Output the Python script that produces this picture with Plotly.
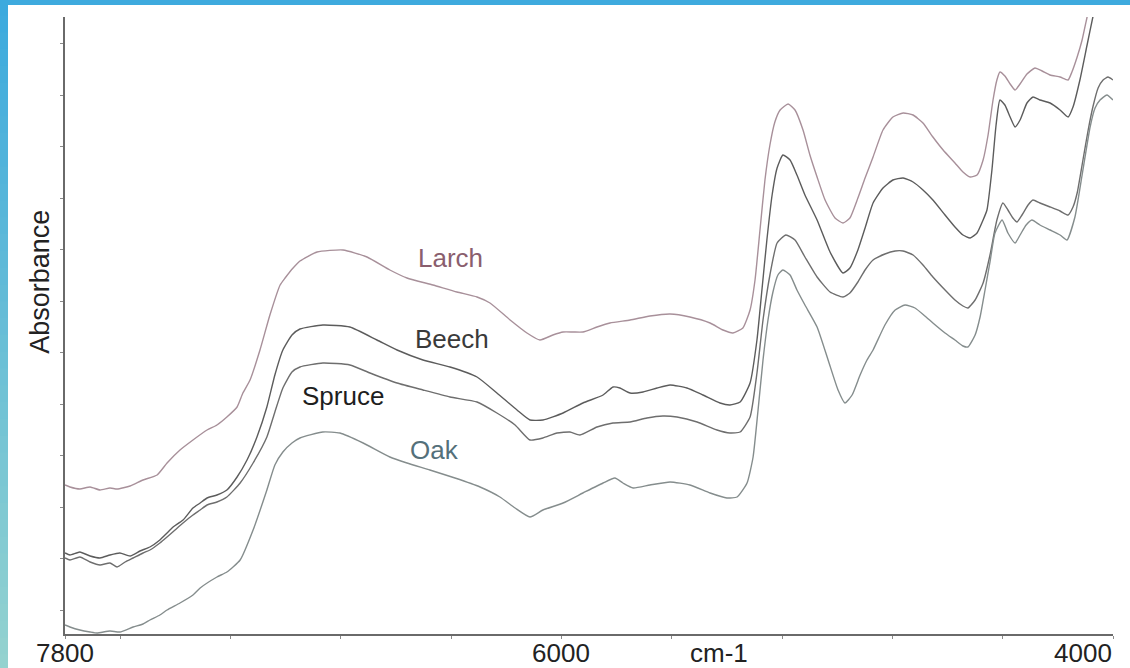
import plotly.graph_objects as go

# NIR absorbance spectra of four wood species (wavenumber in cm-1, absorbance in a.u.)
larch_wn = [7800, 7782, 7746, 7709, 7673, 7637, 7611, 7564, 7517, 7466, 7430, 7383, 7336, 7285,
            7249, 7213, 7176, 7155, 7129, 7093, 7057, 7020, 7002, 6973, 6948, 6886, 6792, 6705,
            6622, 6560, 6466, 6379, 6306, 6259, 6186, 6125, 6078, 6031, 5994, 5958, 5922, 5871,
            5824, 5751, 5679, 5606, 5534, 5461, 5414, 5378, 5342, 5316, 5298, 5280, 5262, 5244,
            5226, 5207, 5178, 5153, 5124, 5099, 5073, 5044, 5008, 4979, 4954, 4925, 4899, 4870,
            4834, 4798, 4761, 4725, 4689, 4653, 4616, 4573, 4544, 4518, 4493, 4471, 4453, 4435,
            4421, 4410, 4392, 4373, 4355, 4337, 4312, 4283, 4257, 4228, 4192, 4163, 4149, 4130,
            4112, 4094, 4076, 4058]
larch_abs = [0.349, 0.347, 0.345, 0.347, 0.344, 0.346, 0.345, 0.348, 0.354, 0.359, 0.371, 0.384,
             0.394, 0.404, 0.409, 0.417, 0.427, 0.441, 0.454, 0.484, 0.519, 0.549, 0.556, 0.566,
             0.573, 0.582, 0.584, 0.577, 0.564, 0.556, 0.549, 0.542, 0.537, 0.531, 0.514, 0.501,
             0.494, 0.499, 0.502, 0.502, 0.502, 0.507, 0.511, 0.514, 0.518, 0.520, 0.517, 0.511,
             0.504, 0.501, 0.506, 0.524, 0.554, 0.604, 0.654, 0.689, 0.712, 0.724, 0.730, 0.724,
             0.704, 0.679, 0.657, 0.634, 0.616, 0.611, 0.616, 0.636, 0.656, 0.677, 0.704, 0.717,
             0.721, 0.719, 0.711, 0.697, 0.684, 0.671, 0.662, 0.657, 0.659, 0.674, 0.699, 0.734,
             0.754, 0.762, 0.758, 0.750, 0.744, 0.750, 0.760, 0.766, 0.763, 0.759, 0.757, 0.754,
             0.762, 0.777, 0.794, 0.817, 0.839, 0.859]

beech_wn = [7800, 7782, 7746, 7709, 7673, 7637, 7601, 7564, 7528, 7492, 7456, 7430, 7408, 7372,
            7336, 7310, 7285, 7249, 7213, 7176, 7140, 7104, 7068, 7039, 7010, 6977, 6948, 6865,
            6767, 6669, 6596, 6502, 6404, 6306, 6234, 6161, 6114, 6067, 5994, 5922, 5849, 5813,
            5788, 5751, 5704, 5653, 5606, 5545, 5487, 5425, 5389, 5352, 5316, 5291, 5273, 5255,
            5236, 5218, 5197, 5171, 5146, 5117, 5073, 5026, 4979, 4954, 4925, 4899, 4870, 4834,
            4798, 4761, 4725, 4689, 4653, 4609, 4573, 4544, 4518, 4493, 4471, 4457, 4439, 4424,
            4410, 4392, 4373, 4355, 4337, 4312, 4290, 4265, 4228, 4192, 4163, 4145, 4120, 4094,
            4073, 4054]
beech_abs = [0.281, 0.279, 0.282, 0.278, 0.276, 0.279, 0.281, 0.278, 0.283, 0.287, 0.294, 0.301,
             0.307, 0.314, 0.326, 0.331, 0.336, 0.339, 0.344, 0.357, 0.374, 0.397, 0.427, 0.459,
             0.484, 0.499, 0.505, 0.509, 0.507, 0.494, 0.484, 0.474, 0.467, 0.457, 0.441, 0.424,
             0.414, 0.414, 0.421, 0.431, 0.439, 0.447, 0.446, 0.441, 0.442, 0.446, 0.449, 0.446,
             0.439, 0.431, 0.429, 0.432, 0.451, 0.494, 0.544, 0.594, 0.639, 0.666, 0.679, 0.674,
             0.659, 0.639, 0.614, 0.582, 0.561, 0.566, 0.584, 0.606, 0.631, 0.646, 0.654, 0.656,
             0.652, 0.644, 0.634, 0.619, 0.607, 0.599, 0.596, 0.601, 0.614, 0.624, 0.664, 0.709,
             0.734, 0.729, 0.717, 0.707, 0.714, 0.731, 0.737, 0.734, 0.731, 0.724, 0.717, 0.727,
             0.754, 0.789, 0.817, 0.839]

spruce_wn = [7800, 7782, 7746, 7709, 7673, 7637, 7611, 7582, 7553, 7517, 7492, 7456, 7430, 7401,
             7372, 7336, 7310, 7285, 7249, 7213, 7165, 7118, 7068, 7039, 7010, 6977, 6948, 6865,
             6767, 6694, 6596, 6502, 6404, 6306, 6234, 6168, 6114, 6067, 6016, 5969, 5933, 5871,
             5813, 5751, 5690, 5632, 5581, 5508, 5436, 5389, 5352, 5316, 5291, 5269, 5244, 5218,
             5186, 5153, 5117, 5073, 5026, 4979, 4954, 4925, 4899, 4870, 4827, 4790, 4761, 4725,
             4689, 4653, 4609, 4573, 4544, 4526, 4500, 4471, 4446, 4421, 4399, 4381, 4363, 4348,
             4330, 4308, 4290, 4265, 4228, 4192, 4163, 4145, 4130, 4109, 4090, 4073, 4054, 4036,
             4018, 4000]
spruce_abs = [0.276, 0.274, 0.277, 0.272, 0.269, 0.271, 0.267, 0.272, 0.276, 0.281, 0.284, 0.291,
              0.297, 0.304, 0.311, 0.319, 0.324, 0.329, 0.332, 0.337, 0.351, 0.371, 0.397, 0.422,
              0.446, 0.462, 0.467, 0.471, 0.469, 0.461, 0.451, 0.444, 0.437, 0.432, 0.421, 0.409,
              0.394, 0.396, 0.401, 0.402, 0.399, 0.407, 0.411, 0.412, 0.416, 0.418, 0.417, 0.412,
              0.404, 0.401, 0.402, 0.417, 0.461, 0.514, 0.559, 0.591, 0.599, 0.594, 0.577, 0.557,
              0.542, 0.537, 0.541, 0.552, 0.564, 0.574, 0.580, 0.583, 0.583, 0.579, 0.569, 0.557,
              0.544, 0.534, 0.528, 0.526, 0.534, 0.551, 0.579, 0.614, 0.631, 0.624, 0.616, 0.612,
              0.619, 0.629, 0.634, 0.631, 0.627, 0.623, 0.619, 0.627, 0.641, 0.674, 0.704, 0.727,
              0.746, 0.754, 0.757, 0.754]

oak_wn = [7800, 7782, 7746, 7709, 7684, 7637, 7601, 7553, 7517, 7492, 7456, 7430, 7383, 7336,
          7310, 7249, 7213, 7165, 7118, 7068, 7039, 7010, 6977, 6948, 6865, 6803, 6719, 6622,
          6560, 6477, 6386, 6295, 6223, 6168, 6114, 6067, 5994, 5922, 5849, 5806, 5777, 5740,
          5679, 5606, 5534, 5461, 5400, 5363, 5327, 5305, 5287, 5269, 5251, 5233, 5215, 5197,
          5171, 5146, 5117, 5073, 5033, 4997, 4972, 4946, 4917, 4892, 4870, 4827, 4790, 4754,
          4718, 4682, 4653, 4609, 4573, 4544, 4526, 4500, 4482, 4464, 4446, 4428, 4402, 4381,
          4355, 4337, 4315, 4294, 4265, 4228, 4192, 4167, 4138, 4112, 4083, 4065, 4047, 4022,
          4000]
oak_abs = [0.209, 0.207, 0.204, 0.202, 0.201, 0.203, 0.202, 0.207, 0.210, 0.214, 0.219, 0.224,
           0.231, 0.239, 0.246, 0.257, 0.262, 0.274, 0.304, 0.344, 0.369, 0.382, 0.391, 0.396,
           0.402, 0.401, 0.391, 0.377, 0.371, 0.364, 0.356, 0.347, 0.337, 0.326, 0.317, 0.324,
           0.331, 0.341, 0.351, 0.356, 0.351, 0.346, 0.349, 0.352, 0.349, 0.341, 0.336, 0.337,
           0.351, 0.377, 0.424, 0.474, 0.514, 0.542, 0.559, 0.564, 0.559, 0.544, 0.529, 0.507,
           0.474, 0.444, 0.431, 0.439, 0.459, 0.474, 0.484, 0.509, 0.524, 0.529, 0.526, 0.518,
           0.511, 0.501, 0.494, 0.488, 0.487, 0.499, 0.517, 0.544, 0.572, 0.601, 0.614, 0.601,
           0.591, 0.599, 0.609, 0.614, 0.609, 0.604, 0.599, 0.594, 0.617, 0.659, 0.707, 0.726,
           0.734, 0.739, 0.734]

species = ["Larch", "Beech", "Spruce", "Oak"]
line_colors = ["#a8909a", "#5c5c5c", "#6e6e6e", "#858d8d"]
label_colors = ["#8a5e6e", "#3a3a3a", "#1e1e1e", "#54707a"]
label_wn = [6404, 6397, 6792, 6462]
label_abs = [0.576, 0.495, 0.438, 0.384]

# Tick marks every 400 cm-1; only a few positions carry a printed value
x_tickvals = [7800, 7600, 7200, 6800, 6400, 6000, 5600, 5200, 4800, 4400, 4000]
x_label_vals = [7800, 6000, 4000]
x_label_text = ["7800", "6000", "4000"]
x_label_anchor = ["center", "center", "right"]
x_unit = "cm-1"
x_unit_pos = 5430
y_title = "Absorbance"

FONT = "Liberation Sans, Arial, sans-serif"
TEXT = "#222222"
LABEL_Y = -0.031  # paper coordinate of the x tick-label row
LABEL_SIZE = 26

fig = go.Figure()
series = [(larch_wn, larch_abs), (beech_wn, beech_abs), (spruce_wn, spruce_abs), (oak_wn, oak_abs)]
for name, (wn, ab), col in zip(species, series, line_colors):
    fig.add_trace(go.Scatter(x=wn, y=ab, mode="lines", name=name,
                             line=dict(color=col, width=1.4, shape="spline", smoothing=0.5),
                             showlegend=False))

for name, wn, ab, col in zip(species, label_wn, label_abs, label_colors):
    fig.add_annotation(x=wn, y=ab, text=name, showarrow=False,
                       font=dict(family=FONT, size=26, color=col))

for val, txt, anc in zip(x_label_vals, x_label_text, x_label_anchor):
    fig.add_annotation(x=val, y=LABEL_Y, yref="paper", text=txt, showarrow=False,
                       xanchor=anc, yanchor="middle", borderpad=0,
                       font=dict(family=FONT, size=LABEL_SIZE, color=TEXT))
fig.add_annotation(x=x_unit_pos, y=LABEL_Y, yref="paper", text=x_unit, showarrow=False,
                   yanchor="middle", borderpad=0,
                   font=dict(family=FONT, size=LABEL_SIZE, color=TEXT))
fig.add_annotation(x=-0.024, y=0.5705, xref="paper", yref="paper", text=y_title,
                   textangle=-90, showarrow=False, xanchor="center", yanchor="middle",
                   font=dict(family=FONT, size=27, color=TEXT))

# Blue frame: solid top band and a vertical gradient band on the left
fig.add_shape(type="rect", xref="paper", yref="paper", x0=-0.063, x1=1.02,
              y0=1.0194, y1=1.03, line_width=0, fillcolor="#3eaade")
top_rgb = (0x3c, 0xaa, 0xde)
bot_rgb = (0x94, 0xd2, 0xcf)
n_steps = 40
y_top, y_bot = 1.03, -0.06
for i in range(n_steps):
    t = i / (n_steps - 1)
    r, g, b = (round(top_rgb[k] + (bot_rgb[k] - top_rgb[k]) * t) for k in range(3))
    ya = y_top - (y_top - y_bot) * i / n_steps
    yb = y_top - (y_top - y_bot) * (i + 1) / n_steps
    fig.add_shape(type="rect", xref="paper", yref="paper", x0=-0.063, x1=-0.0544,
                  y0=yb - 0.002, y1=ya, line_width=0, fillcolor=f"rgb({r},{g},{b})")

fig.update_layout(
    width=1130, height=668,
    margin=dict(l=65, r=17, t=17, b=34, autoexpand=False),
    paper_bgcolor="white", plot_bgcolor="white",
    font=dict(family=FONT, size=27, color=TEXT),
    xaxis=dict(range=[7800, 4000], tickmode="array", tickvals=x_tickvals,
               showticklabels=False, automargin=False,
               showgrid=False, zeroline=False, showline=True, linecolor="#6a6a6a", linewidth=1.6,
               ticks="outside", ticklen=3, tickcolor="#8a8a8a", tickwidth=1),
    yaxis=dict(range=[0.2, 0.817], tickmode="linear", tick0=0.224, dtick=0.0515,
               automargin=False,
               showticklabels=False, showgrid=False, zeroline=False, showline=True,
               linecolor="#6a6a6a", linewidth=1.6, ticks="outside", ticklen=3,
               tickcolor="#8a8a8a", tickwidth=1),
)

fig.write_html("out.html")
